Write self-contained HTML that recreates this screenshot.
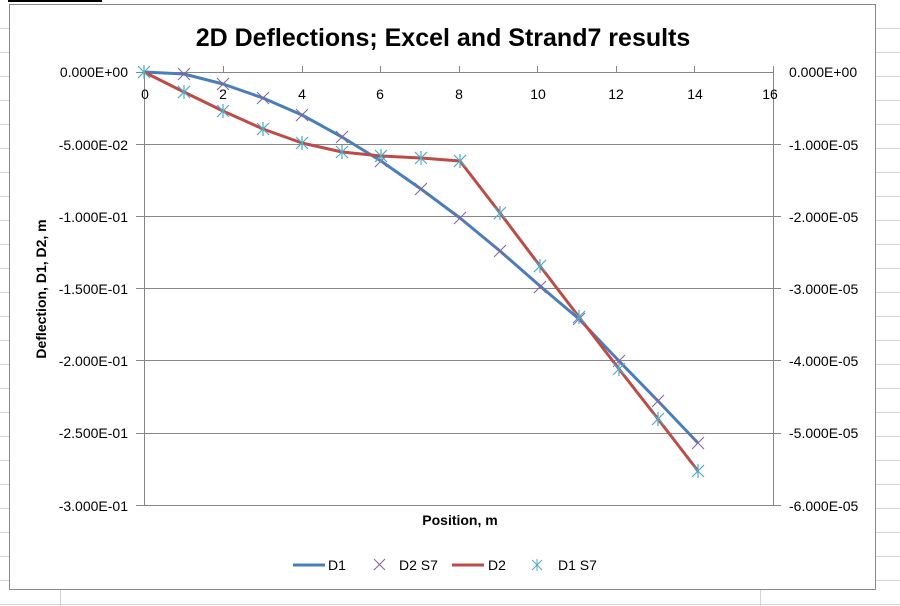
<!DOCTYPE html>
<html><head><style>
html,body{margin:0;padding:0;background:#fff;}
svg{display:block;font-family:"Liberation Sans",Calibri,sans-serif;}
</style></head><body>
<svg width="900" height="606" viewBox="0 0 900 606" xmlns="http://www.w3.org/2000/svg">
<g stroke="#d4d4d4" stroke-width="1">
<line x1="0" y1="28.5" x2="900" y2="28.5"/><line x1="0" y1="52.5" x2="900" y2="52.5"/>
<line x1="0" y1="76.5" x2="900" y2="76.5"/><line x1="0" y1="100.5" x2="900" y2="100.5"/>
<line x1="0" y1="124.5" x2="900" y2="124.5"/><line x1="0" y1="148.5" x2="900" y2="148.5"/>
<line x1="0" y1="172.5" x2="900" y2="172.5"/><line x1="0" y1="196.5" x2="900" y2="196.5"/>
<line x1="0" y1="220.5" x2="900" y2="220.5"/><line x1="0" y1="244.5" x2="900" y2="244.5"/>
<line x1="0" y1="268.5" x2="900" y2="268.5"/><line x1="0" y1="292.5" x2="900" y2="292.5"/>
<line x1="0" y1="316.5" x2="900" y2="316.5"/><line x1="0" y1="340.5" x2="900" y2="340.5"/>
<line x1="0" y1="364.5" x2="900" y2="364.5"/><line x1="0" y1="388.5" x2="900" y2="388.5"/>
<line x1="0" y1="412.5" x2="900" y2="412.5"/><line x1="0" y1="436.5" x2="900" y2="436.5"/>
<line x1="0" y1="460.5" x2="900" y2="460.5"/><line x1="0" y1="484.5" x2="900" y2="484.5"/>
<line x1="0" y1="508.5" x2="900" y2="508.5"/><line x1="0" y1="532.5" x2="900" y2="532.5"/>
<line x1="0" y1="556.5" x2="900" y2="556.5"/><line x1="0" y1="580.5" x2="900" y2="580.5"/>
<line x1="0" y1="604.5" x2="900" y2="604.5"/>
<line x1="760.5" y1="590" x2="760.5" y2="606"/><line x1="60.5" y1="590" x2="60.5" y2="606"/>
</g>
<line x1="8" y1="1" x2="102" y2="1" stroke="#000" stroke-width="2"/>
<rect x="9.5" y="4.5" width="866" height="585" fill="#fff" stroke="#888" stroke-width="1"/>
<text x="443" y="46" font-size="25" font-weight="bold" text-anchor="middle" fill="#000">2D Deflections; Excel and Strand7 results</text>
<g stroke="#868686" stroke-width="1">
<line x1="144" y1="72.5" x2="773" y2="72.5"/><line x1="136" y1="144.5" x2="781" y2="144.5"/>
<line x1="136" y1="216.5" x2="781" y2="216.5"/><line x1="136" y1="288.5" x2="781" y2="288.5"/>
<line x1="136" y1="360.5" x2="781" y2="360.5"/><line x1="136" y1="433.5" x2="781" y2="433.5"/>
<line x1="136" y1="505.5" x2="781" y2="505.5"/>
<line x1="144.5" y1="72" x2="144.5" y2="505"/><line x1="773.5" y1="72" x2="773.5" y2="505"/>
<line x1="136" y1="72.5" x2="144" y2="72.5"/>
<line x1="223.5" y1="66" x2="223.5" y2="72"/><line x1="302.5" y1="66" x2="302.5" y2="72"/>
<line x1="380.5" y1="66" x2="380.5" y2="72"/><line x1="459.5" y1="66" x2="459.5" y2="72"/>
<line x1="537.5" y1="66" x2="537.5" y2="72"/><line x1="616.5" y1="66" x2="616.5" y2="72"/>
<line x1="694.5" y1="66" x2="694.5" y2="72"/><line x1="773.5" y1="66" x2="773.5" y2="72"/>
</g>
<g font-size="14" fill="#000" text-anchor="middle">
<text x="145" y="99">0</text><text x="223" y="99">2</text><text x="302" y="99">4</text>
<text x="380" y="99">6</text><text x="459" y="99">8</text><text x="538" y="99">10</text>
<text x="616" y="99">12</text><text x="695" y="99">14</text><text x="770" y="99">16</text>
</g>
<g font-size="14" fill="#000" text-anchor="end">
<text x="128" y="77">0.000E+00</text><text x="128" y="150">-5.000E-02</text>
<text x="128" y="222">-1.000E-01</text><text x="128" y="294">-1.500E-01</text>
<text x="128" y="366">-2.000E-01</text><text x="128" y="438">-2.500E-01</text>
<text x="128" y="511">-3.000E-01</text>
</g>
<g font-size="14" fill="#000" text-anchor="start">
<text x="789" y="77">0.000E+00</text><text x="789" y="150">-1.000E-05</text>
<text x="789" y="222">-2.000E-05</text><text x="789" y="294">-3.000E-05</text>
<text x="789" y="366">-4.000E-05</text><text x="789" y="438">-5.000E-05</text>
<text x="789" y="511">-6.000E-05</text>
</g>
<text transform="translate(46,289) rotate(-90)" font-size="14" font-weight="bold" text-anchor="middle">Deflection, D1, D2, m</text>
<text x="460" y="525" font-size="14" font-weight="bold" text-anchor="middle">Position, m</text>
<polyline fill="none" stroke="#4a7ebb" stroke-width="3" stroke-linejoin="round" points="144,72 184,74 223,84 263,98 302,115 342,137 381,161 421,189 460,218 500,251 540,286 579,319 619,361 658,401 698,443"/>
<polyline fill="none" stroke="#be4b48" stroke-width="3" stroke-linejoin="round" points="144,72 184,92 223,111 263,129 302,143 342,152 381,156 421,158 460,161 500,213 540,266 579,317 619,369 658,419 698,471"/>
<g stroke="#8064a2" stroke-width="1" id="xm">
<path d="M178,68l12,12M190,68l-12,12"/><path d="M217,78l12,12M229,78l-12,12"/>
<path d="M257,92l12,12M269,92l-12,12"/><path d="M296,109l12,12M308,109l-12,12"/>
<path d="M336,131l12,12M348,131l-12,12"/><path d="M375,155l12,12M387,155l-12,12"/>
<path d="M415,183l12,12M427,183l-12,12"/><path d="M454,212l12,12M466,212l-12,12"/>
<path d="M494,245l12,12M506,245l-12,12"/><path d="M534,281l12,12M546,281l-12,12"/>
<path d="M573,313l12,12M585,313l-12,12"/><path d="M613,355l12,12M625,355l-12,12"/>
<path d="M652,395l12,12M664,395l-12,12"/><path d="M692,437l12,12M704,437l-12,12"/>
</g>
<g stroke="#4bacc6" stroke-width="1.2">
<path d="M138,66l12,12M150,66l-12,12M144,65v14"/>
<path d="M178,86l12,12M190,86l-12,12M184,85v14"/><path d="M217,105l12,12M229,105l-12,12M223,104v14"/>
<path d="M257,123l12,12M269,123l-12,12M263,122v14"/><path d="M296,137l12,12M308,137l-12,12M302,136v14"/>
<path d="M336,146l12,12M348,146l-12,12M342,145v14"/><path d="M375,150l12,12M387,150l-12,12M381,149v14"/>
<path d="M415,152l12,12M427,152l-12,12M421,151v14"/><path d="M454,155l12,12M466,155l-12,12M460,154v14"/>
<path d="M494,207l12,12M506,207l-12,12M500,206v14"/><path d="M534,260l12,12M546,260l-12,12M540,259v14"/>
<path d="M573,311l12,12M585,311l-12,12M579,310v14"/><path d="M613,363l12,12M625,363l-12,12M619,362v14"/>
<path d="M652,413l12,12M664,413l-12,12M658,412v14"/><path d="M692,465l12,12M704,465l-12,12M698,464v14"/>
</g>
<line x1="293" y1="565" x2="325" y2="565" stroke="#4a7ebb" stroke-width="3"/>
<text x="328" y="570" font-size="14">D1</text>
<path d="M374,559l11,11M385,559l-11,11" stroke="#8064a2" stroke-width="1"/>
<text x="399" y="570" font-size="14">D2 S7</text>
<line x1="452" y1="565" x2="484" y2="565" stroke="#be4b48" stroke-width="3"/>
<text x="488" y="570" font-size="14">D2</text>
<path d="M532,560l10,10M542,560l-10,10M537,559v12" stroke="#4bacc6" stroke-width="1"/>
<text x="558" y="570" font-size="14">D1 S7</text>
</svg>
</body></html>
